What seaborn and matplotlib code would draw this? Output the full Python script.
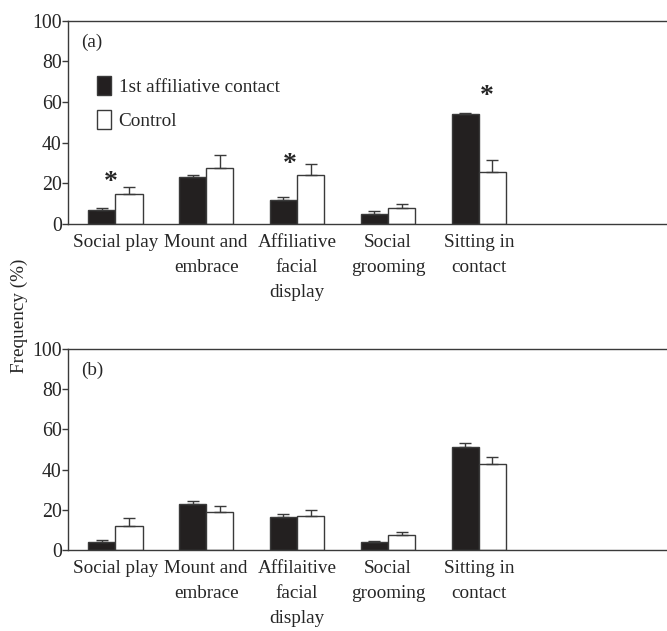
import matplotlib
matplotlib.use("Agg")
import matplotlib.pyplot as plt
import seaborn as sns
import pandas as pd
from matplotlib.patches import Patch

# behaviour categories (panel a / panel b spelled as in the figure)
cats_a = ['Social play', 'Mount and\nembrace', 'Affiliative\nfacial\ndisplay', 'Social\ngrooming', 'Sitting in\ncontact']
cats_b = ['Social play', 'Mount and\nembrace', 'Affilaitive\nfacial\ndisplay', 'Social\ngrooming', 'Sitting in\ncontact']
groups = ['1st affiliative contact', 'Control']

# panel (a)
first_a = [6.9, 22.9, 11.7, 5.1, 54.0]
first_a_err = [1.2, 1.3, 1.8, 1.2, 0.7]
ctrl_a = [14.8, 27.5, 24.0, 7.9, 25.7]
ctrl_a_err = [3.6, 6.4, 5.5, 2.0, 5.6]
# significance stars: (category index offset, height)
stars_a = [(-0.055, 20.5), (1.923, 29.5), (4.088, 63.0)]

# panel (b)
first_b = [4.2, 22.8, 16.4, 4.2, 51.2]
first_b_err = [0.9, 1.6, 1.4, 0.5, 1.8]
ctrl_b = [12.0, 18.8, 16.9, 7.6, 43.0]
ctrl_b_err = [3.8, 3.1, 3.2, 1.4, 3.2]

sns.set_style("white")
plt.rcParams['font.family'] = ['Liberation Serif', 'DejaVu Serif']
FS = 13.8
EDGE = '#3a3a3a'


def panel(ax, cats, first, first_err, ctrl, ctrl_err, label, stars=None, legend=False):
    df = pd.DataFrame({
        'behaviour': cats + cats,
        'group': [groups[0]] * len(cats) + [groups[1]] * len(cats),
        'freq': first + ctrl,
    })
    sns.barplot(data=df, x='behaviour', y='freq', hue='group', order=cats,
                hue_order=groups, palette=['#231f20', 'white'], width=0.6,
                errorbar=None, edgecolor=EDGE, linewidth=1.0, legend=False, ax=ax)
    # upward-only error bars at each bar's centre
    bars = ax.patches[:2 * len(cats)]
    errs = first_err + ctrl_err
    for p, e in zip(bars, errs):
        xc = p.get_x() + p.get_width() / 2
        ax.errorbar(xc, p.get_height(), yerr=[[0], [e]], fmt='none',
                    ecolor=EDGE, elinewidth=1.0, capsize=4, capthick=1.0, zorder=1)
    ax.set_ylim(0, 100)
    ax.set_xlim(-0.52, 6.07)
    ax.set_yticks([0, 20, 40, 60, 80, 100])
    ax.set_xlabel('')
    ax.set_ylabel('')
    for s in ['left', 'bottom', 'top']:
        ax.spines[s].set_color(EDGE)
        ax.spines[s].set_linewidth(1.0)
    ax.spines['right'].set_visible(False)
    ax.tick_params(axis='y', which='both', left=True, direction='out', length=4,
                   width=1.0, color=EDGE, labelsize=14.3, pad=0.5)
    ax.tick_params(axis='x', bottom=False, labelsize=FS, pad=4)
    for t in ax.get_xticklabels():
        t.set_linespacing(1.6)
        t.set_verticalalignment('top')
    ax.text(0.022, 0.935, label, transform=ax.transAxes, fontsize=FS, va='top', ha='left')
    if stars:
        for xi, yv in stars:
            ax.text(xi, yv, '*', ha='center', va='center', fontsize=20, fontweight='bold')
    if legend:
        handles = [Patch(facecolor='#231f20', edgecolor=EDGE, linewidth=1.0),
                   Patch(facecolor='white', edgecolor=EDGE, linewidth=1.0)]
        ax.legend(handles, groups, loc='upper left', bbox_to_anchor=(0.035, 0.765),
                  frameon=False, fontsize=FS, handlelength=0.75, handleheight=1.15,
                  handletextpad=0.4, labelspacing=0.7, borderaxespad=0)


fig = plt.figure(figsize=(6.67, 6.31), dpi=100)
ax_a = fig.add_axes([0.102, 0.645, 0.898, 0.322])
ax_b = fig.add_axes([0.102, 0.1284, 0.898, 0.3186])

panel(ax_a, cats_a, first_a, first_a_err, ctrl_a, ctrl_a_err, '(a)', stars=stars_a, legend=True)
panel(ax_b, cats_b, first_b, first_b_err, ctrl_b, ctrl_b_err, '(b)')

fig.text(0.029, 0.50, 'Frequency (%)', rotation=90, ha='center', va='center', fontsize=FS)

fig.savefig('out.png', dpi=100)
